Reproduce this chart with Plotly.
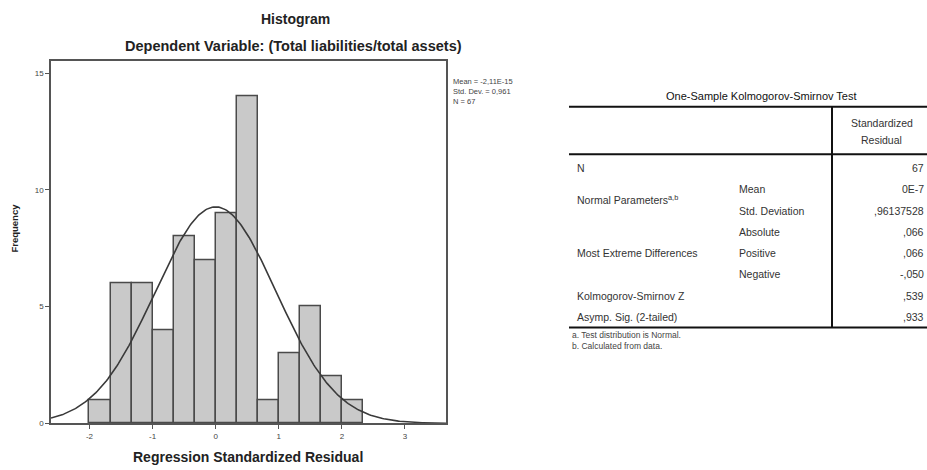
import numpy as np
import plotly.graph_objects as go

# ---------------- data ----------------
bin_start = -2.0
bin_width = 1.0 / 3.0
counts = [1, 6, 6, 4, 8, 7, 9, 14, 1, 3, 5, 2, 1]
MEAN = -2.11e-15
SD = 0.961
N = 67
x_ticks = [-2, -1, 0, 1, 2, 3]
y_ticks = [0, 5, 10, 15]

ks_title = "One-Sample Kolmogorov-Smirnov Test"
ks_header = ["Standardized", "Residual"]
ks_row_labels = ["N", "Normal Parameters<sup>a,b</sup>", "Most Extreme Differences",
                 "Kolmogorov-Smirnov Z", "Asymp. Sig. (2-tailed)"]
ks_sub_labels = ["Mean", "Std. Deviation", "Absolute", "Positive", "Negative"]
ks_values = ["67", "0E-7", ",96137528", ",066", ",066", "-,050", ",539", ",933"]
ks_notes = ["a. Test distribution is Normal.", "b. Calculated from data."]

W, H = 927, 470
FONT = "Liberation Sans, Arial, sans-serif"
def px(x):
    return x / W
def py(y):
    return 1 - y / H

centers = [bin_start + bin_width * (i + 0.5) for i in range(len(counts))]

# normal curve defined by the stated mean / sd
xs = np.linspace(-2.61, 3.65, 300)
ys = N * bin_width * np.exp(-0.5 * ((xs - MEAN) / SD) ** 2) / (SD * np.sqrt(2 * np.pi))

fig = go.Figure()
fig.add_trace(go.Bar(x=centers, y=counts, width=bin_width,
                     marker=dict(color="#c9c9c9", line=dict(color="#4a4a4a", width=1.5)),
                     showlegend=False, hoverinfo="skip"))
fig.add_trace(go.Scatter(x=xs, y=ys, mode="lines",
                         line=dict(color="#3a3a3a", width=1.6),
                         showlegend=False, hoverinfo="skip"))

fig.update_layout(
    width=W, height=H, autosize=False,
    margin=dict(l=0, r=0, t=0, b=0),
    paper_bgcolor="white", plot_bgcolor="white",
    font=dict(family=FONT, color="#222"),
    bargap=0,
    xaxis=dict(domain=[px(51), px(446)], range=[-2.61, 3.65],
               tickvals=x_ticks, ticktext=[str(v) for v in x_ticks],
               ticks="outside", ticklen=4, tickcolor="#555", tickwidth=1,
               showline=True, linecolor="#555", linewidth=1.5, mirror=True,
               showgrid=False, zeroline=False,
               tickfont=dict(size=8, color="#444", family=FONT)),
    yaxis=dict(domain=[py(428), py(62)], range=[0, 15.5],
               tickvals=y_ticks, ticktext=[str(v) for v in y_ticks],
               ticks="outside", ticklen=4, tickcolor="#555", tickwidth=1,
               showline=True, linecolor="#555", linewidth=1.5, mirror=True,
               showgrid=False, zeroline=False,
               tickfont=dict(size=8, color="#444", family=FONT)),
)

ann = []
def text(x, y, s, size=10, bold=False, xanchor="left", color="#222", angle=0):
    if bold:
        s = "<b>" + s + "</b>"
    ann.append(dict(x=px(x), y=py(y), xref="paper", yref="paper", text=s,
                    showarrow=False, xanchor=xanchor, yanchor="middle",
                    font=dict(size=size, color=color, family=FONT), textangle=angle))

# histogram texts
text(295, 19, "Histogram", size=14, bold=True, xanchor="center")
text(293, 46, "Dependent Variable: (Total liabilities/total assets)", size=14.5, bold=True, xanchor="center")
text(248, 462, "Regression Standardized Residual", size=14, bold=True, xanchor="center")
text(15, 230, "Frequency", size=9.5, bold=True, xanchor="center", angle=-90)
stats = "Mean = -2,11E-15<br>Std. Dev. = 0,961<br>N = 67"
ann.append(dict(x=px(451), y=py(76), xref="paper", yref="paper", text=stats,
                showarrow=False, xanchor="left", yanchor="top", align="left",
                font=dict(size=7.5, color="#444", family=FONT)))

# table
text(761, 97, ks_title, size=11, xanchor="center", color="#111")
text(882, 124, ks_header[0], size=10.5, xanchor="center", color="#333")
text(881, 142, ks_header[1], size=10.5, xanchor="center", color="#333")

row_y = [170, 191, 213, 234, 256, 277, 299, 320]
label_y = [170, 202, 256, 299, 320]
for s, y in zip(ks_row_labels, label_y):
    text(575, y, s, size=10.5, color="#333")
for s, y in zip(ks_sub_labels, row_y[1:6]):
    text(737, y, s, size=10.5, color="#333")
for s, y in zip(ks_values, row_y):
    text(926, y, s, size=10.5, xanchor="right", color="#333")
text(570, 339, ks_notes[0], size=8.5, color="#444")
text(570, 350, ks_notes[1], size=8.5, color="#444")

shapes = []
def line(x0, y0, x1, y1, w=2, c="#111"):
    shapes.append(dict(type="line", xref="paper", yref="paper",
                       x0=px(x0), y0=py(y0), x1=px(x1), y1=py(y1),
                       line=dict(color=c, width=w)))
line(569, 108, 927, 108)
line(569, 156, 927, 156)
line(569, 331, 927, 331)
line(832, 108, 832, 331)

fig.update_layout(annotations=ann, shapes=shapes)
fig.write_html("out.html", config={"displayModeBar": False},
               post_script="document.body.style.margin='0';document.body.style.padding='0';document.body.style.overflow='hidden';")
